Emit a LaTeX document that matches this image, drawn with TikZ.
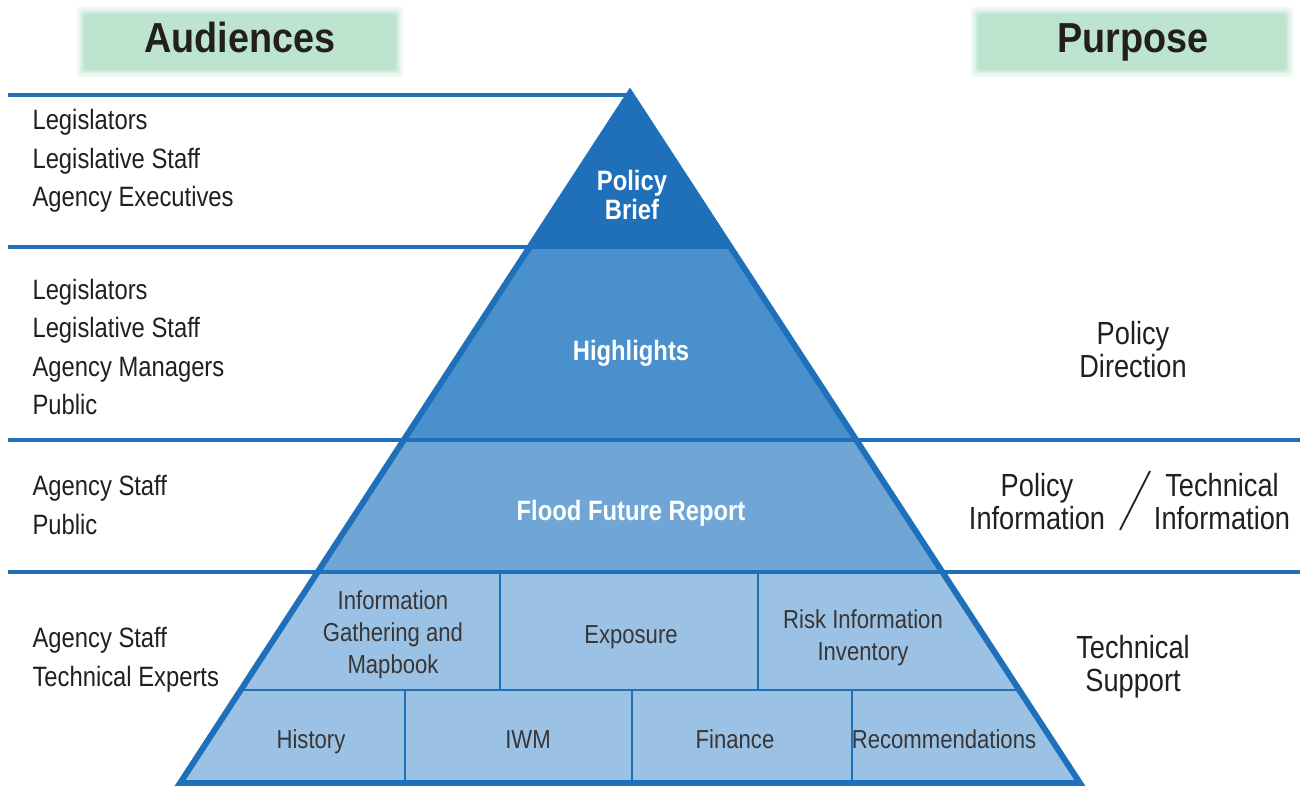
\documentclass[tikz,border=0pt]{standalone}
\usepackage{fontspec}
\setmainfont{Liberation Sans}[FakeStretch=0.85]
\newfontfamily\headfont{Liberation Sans}[FakeStretch=0.9]
\usepackage{tikz}

\definecolor{lineblue}{HTML}{1F70BA}
\definecolor{tierone}{HTML}{1F6FB9}
\definecolor{tiertwo}{HTML}{4A90CC}
\definecolor{tierthree}{HTML}{6FA6D6}
\definecolor{tierfour}{HTML}{9BC2E4}
\definecolor{headgreen}{HTML}{BCE4CF}
\definecolor{inkgray}{HTML}{231F20}

\tikzset{
    band/.style={lineblue, line width=4pt},
    audience/.style={anchor=west, align=left, text=inkgray, font=\fontsize{28}{38.5}\selectfont},
    purpose/.style={align=center, text=inkgray, font=\fontsize{32}{33}\selectfont},
    tiertext/.style={align=center, text=white, font=\fontsize{28}{29}\selectfont\bfseries},
    celltext/.style={align=center, text=inkgray!90, font=\fontsize{26}{32}\selectfont},
    headtext/.style={anchor=base, text=inkgray, font=\fontsize{42}{42}\selectfont\headfont\bfseries}
}

\begin{document}
\begin{tikzpicture}[x=1pt, y=-1pt]
    \useasboundingbox (0,0) rectangle (1300,786);

    % Heading boxes with soft edges
    \foreach \g/\o in {7/0.25, 4/0.35, 2/0.5, 0/1} {
        \fill[headgreen, opacity=\o, rounded corners=3pt] ({84-\g},{14-\g}) rectangle ({396+\g},{70+\g});
        \fill[headgreen, opacity=\o, rounded corners=3pt] ({978-\g},{14-\g}) rectangle ({1286+\g},{70+\g});
    }
    \node[headtext] (audhead) at (240,53) {Audiences};
    \node[headtext] (purphead) at (1133,53) {Purpose};

    % Pyramid tiers
    \fill[tierone] (630,93) -- (730.4,247) -- (529.6,247) -- cycle;
    \fill[tiertwo] (529.6,247) -- (730.4,247) -- (856.2,440) -- (403.8,440) -- cycle;
    \fill[tierthree] (403.8,440) -- (856.2,440) -- (942.3,572) -- (317.7,572) -- cycle;
    \fill[tierfour] (317.7,572) -- (942.3,572) -- (1079.9,783) -- (180.1,783) -- cycle;

    % Cells of the bottom tier
    \draw[lineblue, line width=2.5pt] (240.8,690) -- (1019.2,690);
    \draw[lineblue, line width=2.5pt] (500,572) -- (500,690);
    \draw[lineblue, line width=2.5pt] (758,572) -- (758,690);
    \draw[lineblue, line width=2.5pt] (405,690) -- (405,783);
    \draw[lineblue, line width=2.5pt] (632,690) -- (632,783);
    \draw[lineblue, line width=2.5pt] (852,690) -- (852,783);

    % Horizontal bands
    \draw[band] (8,95) -- (630,95);
    \draw[band] (8,247) -- (730.4,247);
    \draw[band] (8,440) -- (1300,440);
    \draw[band] (8,572) -- (1300,572);

    % Pyramid outline
    \draw[lineblue, line width=6pt, line join=miter] (180.1,783) -- (630,93) -- (1079.9,783) -- cycle;

    % Tier titles
    \node[tiertext] (brief) at (632,195) {Policy\\Brief};
    \node[tiertext] (highlights) at (631,353) {Highlights};
    \node[tiertext] (report) at (631,513) {Flood Future Report};

    % Cell labels
    \node[celltext] (gathering) at (393,635) {Information\\Gathering and\\Mapbook};
    \node[celltext, anchor=base] (exposure) at (631,643) {Exposure};
    \node[celltext] (inventory) at (863,638) {Risk Information\\Inventory};
    \node[celltext, anchor=base] (history) at (311,748) {History};
    \node[celltext, anchor=base] (iwm) at (528,748) {IWM};
    \node[celltext, anchor=base] (finance) at (735,748) {Finance};
    \node[celltext, anchor=base] (recommend) at (944,748) {Recommendations};

    % Audiences
    \node[audience] (audone) at (29,161) {Legislators\\Legislative Staff\\Agency Executives};
    \node[audience] (audtwo) at (29,347) {Legislators\\Legislative Staff\\Agency Managers\\Public};
    \node[audience] (audthree) at (29,505) {Agency Staff\\Public};
    \node[audience] (audfour) at (29,660) {Agency Staff\\Technical Experts};

    % Purposes
    \node[purpose] (direction) at (1133,350) {Policy\\Direction};
    \node[purpose] (polinfo) at (1037,502) {Policy\\Information};
    \node[purpose] (techinfo) at (1222,502) {Technical\\Information};
    \node[purpose] (support) at (1133,667) {Technical\\Support};
    \coordinate (slashtop) at (1150,471);
    \coordinate (slashbot) at (1120,530);
    \draw[inkgray, line width=1.8pt] (slashtop) -- (slashbot);

\end{tikzpicture}
\end{document}
